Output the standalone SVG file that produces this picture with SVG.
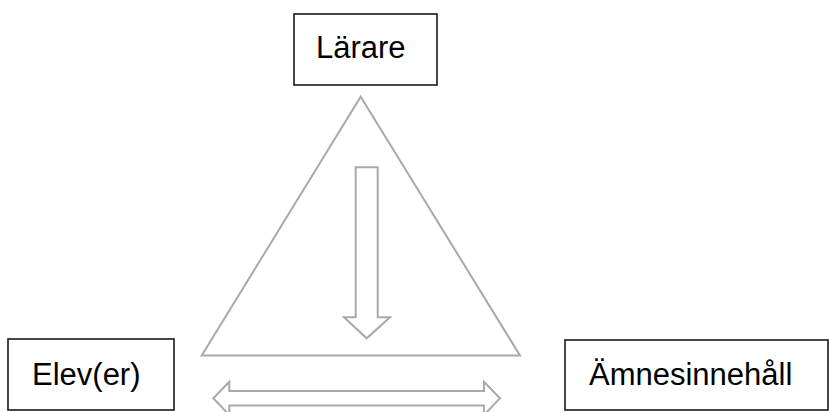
<svg xmlns="http://www.w3.org/2000/svg" width="829" height="412" viewBox="0 0 829 412">
<style>
.box{fill:#fff;stroke:#1a1a1a;stroke-width:1.6}
.lbl{font-family:"Liberation Sans",Arial,sans-serif;font-size:31px;fill:#000}
.gray{fill:none;stroke:#a9a9a9;stroke-width:2;stroke-linejoin:miter}
</style>
<rect width="829" height="412" fill="#fff"/>
<g id="larare">
<rect class="box" x="294" y="14" width="143" height="71"/>
<text class="lbl" x="316" y="58">Lärare</text>
</g>
<g id="elever">
<rect class="box" x="8" y="339" width="166" height="71"/>
<text class="lbl" x="32" y="385">Elev(er)</text>
</g>
<g id="amnesinnehall">
<rect class="box" x="565" y="340" width="263" height="70"/>
<text class="lbl" x="589" y="385">Ämnesinnehåll</text>
</g>
<g id="connectors">
<polygon class="gray" points="360.7,96.7 520,355.5 201.7,355.5"/>
<polygon class="gray" points="355.7,167.3 377.7,167.3 377.7,317.3 390,317.3 366.7,338.3 344,317.3 355.7,317.3"/>
<polygon class="gray" points="213.3,398.3 229.3,381.7 229.3,391 484,391 484,381.7 500,398.3 484,415 484,405.6 229.3,405.6 229.3,415"/>
</g>
</svg>
